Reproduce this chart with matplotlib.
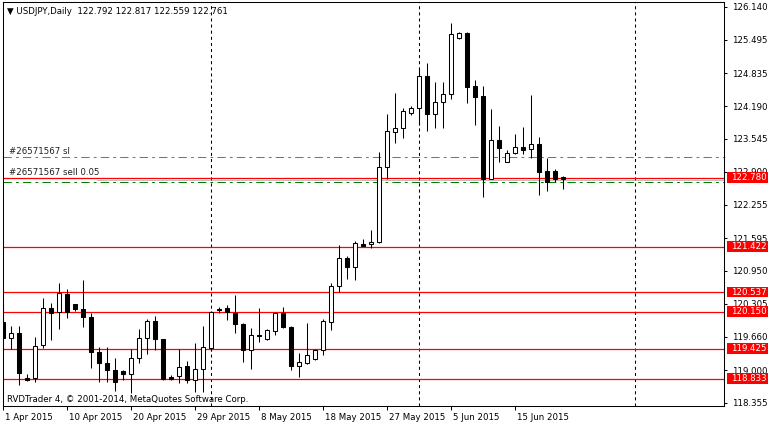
import matplotlib
matplotlib.use("Agg")
import matplotlib.pyplot as plt
from matplotlib import transforms
from matplotlib.patches import Rectangle

plt.rcParams["font.family"] = ["DejaVu Sans"]
plt.rcParams["font.size"] = 6.2
plt.rcParams["lines.scale_dashes"] = False

# daily USDJPY candles, 1 Apr 2015 .. 22 Jun 2015 (sunday bars included)
opens = [119.95, 119.63, 119.73, 118.85, 118.85, 119.50, 120.22, 120.14, 120.50, 120.30,
         120.20, 120.05, 119.36, 119.15, 119.00, 118.98, 118.92, 119.24, 119.63, 119.97,
         119.61, 118.87, 118.89, 119.09, 118.81, 119.03, 119.44, 120.20, 120.22, 120.12,
         119.91, 119.40, 119.70, 119.61, 119.77, 120.12, 119.85, 119.09, 119.15, 119.22,
         119.40, 119.95, 120.66, 121.21, 121.03, 121.48, 121.48, 121.52, 122.99, 123.68,
         123.76, 124.06, 124.15, 124.78, 124.04, 124.27, 124.43, 125.53, 125.63, 124.59,
         124.39, 122.76, 123.53, 123.09, 123.27, 123.39, 123.35, 123.45, 122.92, 122.92,
         122.792]
highs = [120.30, 119.87, 119.87, 118.92, 119.65, 120.42, 120.32, 120.71, 120.60, 120.31,
         120.78, 120.12, 119.46, 119.46, 119.24, 119.00, 119.42, 119.81, 120.01, 120.07,
         119.62, 118.90, 119.42, 119.19, 119.53, 119.87, 120.16, 120.24, 120.28, 120.48,
         119.92, 119.83, 120.22, 119.80, 120.13, 120.24, 119.87, 119.34, 119.93, 119.42,
         120.01, 120.71, 121.46, 121.25, 121.54, 121.58, 121.76, 123.29, 124.04, 124.45,
         124.15, 124.19, 124.94, 125.04, 124.67, 124.67, 125.83, 125.65, 125.65, 124.70,
         124.59, 124.13, 123.80, 123.33, 123.64, 123.78, 124.41, 123.58, 123.17, 122.96,
         122.817]
lows = [119.44, 119.42, 118.71, 118.79, 118.77, 119.44, 119.59, 119.81, 120.03, 120.16,
        119.85, 119.04, 118.77, 118.77, 118.59, 118.81, 118.55, 119.14, 119.32, 119.40,
        118.81, 118.81, 118.75, 118.75, 118.57, 118.57, 119.38, 120.12, 119.99, 119.73,
        119.17, 119.02, 119.56, 119.60, 119.69, 119.83, 119.00, 118.87, 119.13, 119.20,
        119.30, 119.79, 120.54, 120.79, 120.77, 121.44, 121.40, 121.50, 122.76, 123.47,
        123.56, 124.02, 123.82, 123.70, 123.76, 123.76, 124.33, 125.51, 124.25, 123.82,
        122.41, 122.76, 123.09, 123.09, 123.25, 123.25, 123.17, 122.44, 122.52, 122.70,
        122.559]
closes = [119.63, 119.73, 118.94, 118.81, 119.48, 120.22, 120.12, 120.52, 120.14, 120.20,
          120.05, 119.36, 119.15, 119.00, 118.77, 118.92, 119.24, 119.63, 119.97, 119.61,
          118.83, 118.83, 119.06, 118.81, 119.03, 119.46, 120.14, 120.18, 120.14, 119.91,
          119.40, 119.69, 119.68, 119.79, 120.12, 119.85, 119.09, 119.17, 119.30, 119.40,
          119.97, 120.66, 121.21, 121.03, 121.50, 121.44, 121.52, 122.99, 123.70, 123.76,
          124.10, 124.15, 124.78, 124.04, 124.27, 124.43, 125.61, 125.63, 124.57, 124.37,
          122.76, 123.53, 123.37, 123.27, 123.39, 123.33, 123.45, 122.90, 122.70, 122.76,
          122.761]

date_pos = [0, 8, 16, 24, 32, 40, 48, 56, 64]
date_labels = ["1 Apr 2015", "10 Apr 2015", "20 Apr 2015", "29 Apr 2015", "8 May 2015",
               "18 May 2015", "27 May 2015", "5 Jun 2015", "15 Jun 2015"]
month_seps = [26, 52, 79]

price_ticks = [126.140, 125.495, 124.835, 124.190, 123.545, 122.900, 122.255,
               121.595, 120.950, 120.305, 119.660, 119.000, 118.355]
levels = [121.422, 120.537, 120.150, 119.425, 118.833]
bid = 122.780
sl_price = 123.19
sell_price = 122.70

fig = plt.figure(figsize=(7.68, 4.25), dpi=100)
ax = fig.add_axes([3 / 768, 19 / 425, 721 / 768, 404 / 425])

xs = list(range(len(opens)))
ax.vlines(xs, lows, highs, color="black", linewidth=0.75, zorder=3)
faces = ["white" if c >= o else "black" for o, c in zip(opens, closes)]
ax.bar(xs, [c - o for o, c in zip(opens, closes)], bottom=opens, width=0.5,
       color=faces, edgecolor="black", linewidth=0.75, zorder=4)

# month separators
for m in month_seps:
    ax.axvline(m, color="black", linewidth=0.75, linestyle=(0, (2.2, 2.2)), zorder=2)

# horizontal levels
for lv in levels:
    ax.axhline(lv, color="#ff0000", linewidth=0.9, zorder=2)
ax.axhline(bid, color="#ff0000", linewidth=0.9, zorder=2)
ax.axhline(bid - 0.035, xmin=0.13, color="#c0c0c0", linewidth=0.75, zorder=1)
ax.axhline(sl_price, color="#ff4500", linewidth=0.75, linestyle=(0, (6, 3, 2, 3)), zorder=2)
ax.axhline(sell_price, color="#008000", linewidth=0.75, linestyle=(0, (6, 3, 2, 3)), zorder=2)

# order labels
lbl_trans = transforms.blended_transform_factory(ax.transAxes, ax.transData)
ax.text(6 / 721, sl_price + 0.03, "#26571567 sl", transform=lbl_trans,
        va="bottom", ha="left", color="#202020")
ax.text(6 / 721, bid + 0.02, "#26571567 sell 0.05", transform=lbl_trans,
        va="bottom", ha="left", color="#202020")

ax.set_xlim(-0.05, 90.075)
ax.set_ylim(118.296, 126.238)

ax.yaxis.tick_right()
ax.set_yticks(price_ticks)
ax.set_yticklabels([f"{p:.3f}" for p in price_ticks])
ax.tick_params(axis="y", direction="out", length=2.5, width=0.75, pad=3)

ax.set_xticks(date_pos)
ax.set_xticklabels(date_labels)
ax.tick_params(axis="x", direction="out", length=3, width=0.75, pad=2)
off = transforms.ScaledTranslation(2 / 100, 0, fig.dpi_scale_trans)
for lab in ax.get_xticklabels():
    lab.set_horizontalalignment("left")
    lab.set_transform(lab.get_transform() + off)

for sp in ax.spines.values():
    sp.set_linewidth(0.75)

ax.text(4 / 721, 1 - 9 / 404, "\u25bc USDJPY,Daily  122.792 122.817 122.559 122.761",
        transform=ax.transAxes, va="center", ha="left")
ax.text(4 / 721, 7 / 404, "RVDTrader 4, \u00a9 2001-2014, MetaQuotes Software Corp.",
        transform=ax.transAxes, va="center", ha="left")

# red price labels on the right scale
trans = transforms.blended_transform_factory(fig.transFigure, ax.transData)
for lv in [bid] + levels:
    fig.add_artist(Rectangle((727 / 768, lv - 0.108), 41 / 768, 0.216, transform=trans,
                             facecolor="#ff0000", edgecolor="none", zorder=5))
    fig.text(731 / 768, lv, f"{lv:.3f}", transform=trans, color="white",
             va="center", ha="left", zorder=6)

fig.savefig("out.png", dpi=100)
